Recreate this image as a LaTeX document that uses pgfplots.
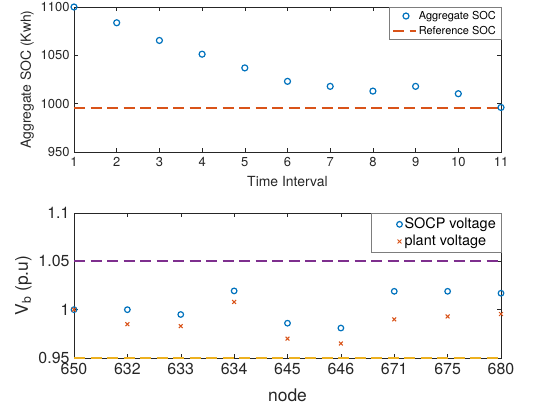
\documentclass[border=0pt]{standalone}
\usepackage{pgfplots}
\pgfplotsset{compat=1.18}
\usepackage{fontspec}
\setmainfont{TeX Gyre Heros}
\definecolor{mblue}{rgb}{0,0.447,0.741}
\definecolor{morange}{rgb}{0.850,0.325,0.098}
\definecolor{myellow}{rgb}{0.929,0.694,0.125}
\definecolor{mpurple}{rgb}{0.494,0.184,0.556}
\definecolor{axgray}{rgb}{0.15,0.15,0.15}

\pgfplotsset{
  mat/.style={
    scale only axis, width=427bp, height=145bp,
    clip=false,
    axis line style={axgray, line width=0.5bp},
    tick style={axgray, line width=0.5bp},
    tick align=inside, major tick length=4bp,
    xtick pos=both, ytick pos=both,
    ticklabel style={text=axgray},
    label style={text=axgray},
    /pgf/number format/assume math mode=true,
    /pgf/number format/1000 sep={},
    legend cell align=left,
  },
  mdash/.style={draw=#1, color=#1, line width=1.7bp, dash pattern=on 11bp off 5.5bp},
}

\begin{document}
\begin{tikzpicture}
\useasboundingbox (0,0) rectangle (548bp,-411bp);

% top panel
\begin{axis}[mat,
  at={(74bp,-7bp)}, anchor=north west,
  xmin=1, xmax=11, ymin=950, ymax=1100,
  xtick={1,2,...,11}, ytick={950,1000,1050,1100},
  ticklabel style={font=\fontsize{13}{15}\selectfont},
  xticklabel style={yshift=-2bp},
  yticklabel style={xshift=-1bp},
  xlabel={Time Interval}, ylabel={Aggregate SOC (Kwh)},
  label style={font=\fontsize{14}{16}\selectfont},
  xlabel style={yshift=-3bp},
  legend style={at={(1,1)}, anchor=north east, draw=axgray!60,
    font=\fontsize{11}{13}\selectfont, row sep=1bp,
    inner xsep=3bp, inner ysep=2bp},
]
\addplot[only marks, mark=o, mark size=3bp, mblue, line width=1.2bp,
  legend image code/.code={\path[draw=none] (0bp,0bp) -- (23bp,0bp);
    \draw plot coordinates {(13bp,0bp)};}]
  coordinates {(1,1100) (2,1083.7) (3,1065.4) (4,1051.2) (5,1037) (6,1023.1)
               (7,1017.9) (8,1013) (9,1017.9) (10,1010.3) (11,996.1)};
\addlegendentry{Aggregate SOC}
\addplot[mdash=morange,
  legend image code/.code={\draw (0bp,0bp) -- (23bp,0bp);}]
  coordinates {(1,995.8) (11,995.8)};
\addlegendentry{Reference SOC}
\end{axis}

% bottom panel
\begin{axis}[mat,
  at={(74bp,-213bp)}, anchor=north west,
  xmin=0, xmax=8, ymin=0.95, ymax=1.1,
  xtick={0,1,...,8},
  xticklabels={650,632,633,634,645,646,671,675,680},
  ytick={0.95,1,1.05,1.1}, yticklabels={0.95,1,1.05,1.1},
  ticklabel style={font=\fontsize{16}{18}\selectfont},
  xticklabel style={yshift=-2bp},
  yticklabel style={xshift=-1bp},
  xlabel={node}, ylabel={V\textsubscript{b} (p.u)},
  label style={font=\fontsize{17.5}{20}\selectfont},
  xlabel style={yshift=-7bp},
  legend style={at={(1,1)}, anchor=north east, draw=axgray!60,
    font=\fontsize{14.5}{17}\selectfont, row sep=1bp,
    inner xsep=3bp, inner ysep=3bp},
  legend image code/.code={\path[draw=none] (0bp,0bp) -- (28bp,0bp);
    \draw plot coordinates {(25bp,0bp)};},
]
\addplot[only marks, mark=o, mark size=2.8bp, mblue, line width=1.2bp]
  coordinates {(0,1.0) (1,1.0) (2,0.995) (3,1.0194) (4,0.986) (5,0.981)
               (6,1.019) (7,1.019) (8,1.017)};
\addlegendentry{SOCP voltage}
\addplot[only marks, mark=x, mark size=2.7bp, morange, line width=1bp]
  coordinates {(0,1.0) (1,0.985) (2,0.983) (3,1.008) (4,0.970) (5,0.965)
               (6,0.990) (7,0.993) (8,0.9955)};
\addlegendentry{plant voltage}
\addplot[mdash=mpurple, forget plot]
  coordinates {(0,1.05) (8,1.05)};
\addplot[mdash=myellow, forget plot]
  coordinates {(0,0.95) (8,0.95)};
\end{axis}
\end{tikzpicture}
\end{document}
